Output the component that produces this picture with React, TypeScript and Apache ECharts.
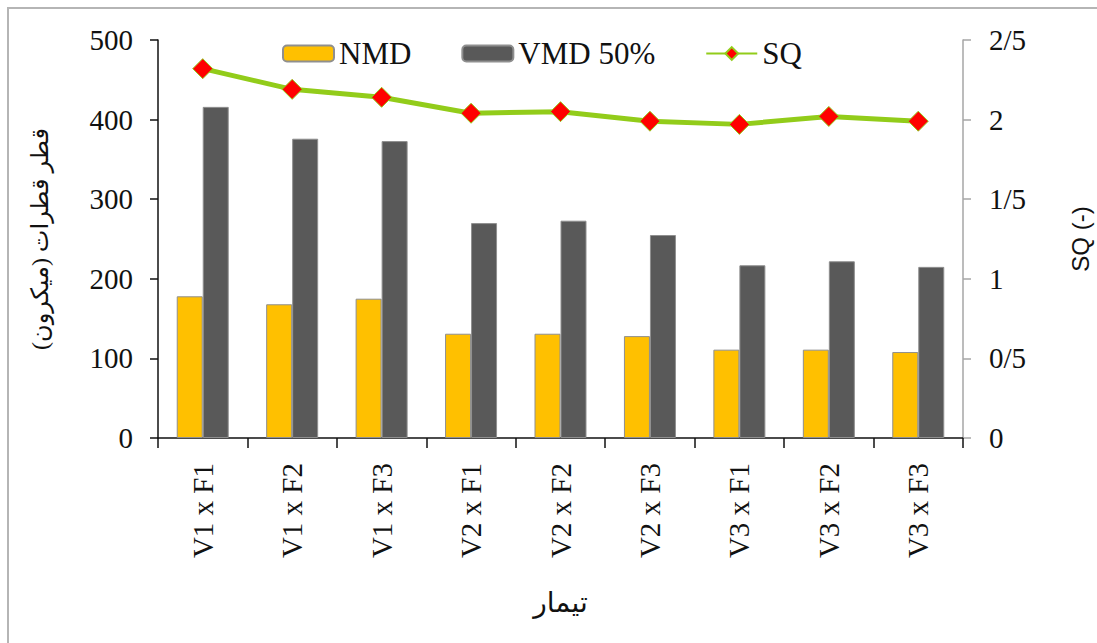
import React, { useEffect, useRef } from "react";
import * as echarts from "echarts";

// Treatments (variety x formulation)
const categories = [
  "V1 x F1", "V1 x F2", "V1 x F3",
  "V2 x F1", "V2 x F2", "V2 x F3",
  "V3 x F1", "V3 x F2", "V3 x F3",
];

// Droplet diameters (micron)
const nmdValues = [178, 168, 175, 131, 131, 128, 111, 111, 108];
const vmdValues = [416, 376, 373, 270, 273, 255, 217, 222, 215];

// Span quality (dimensionless)
const sqValues = [2.32, 2.19, 2.14, 2.04, 2.05, 1.99, 1.97, 2.02, 1.99];

const serif = "'Liberation Serif', 'Times New Roman', 'DejaVu Serif', serif";
const arabicFont = "'Liberation Serif', 'DejaVu Sans', 'Noto Sans', serif";

export default function App() {
  const ref = useRef<HTMLDivElement>(null);

  useEffect(() => {
    if (!ref.current) return;
    const chart = echarts.init(ref.current, undefined, { renderer: "svg" });
    chart.setOption({
      animation: false,
      backgroundColor: "#ffffff",
      graphic: [
        {
          type: "rect",
          shape: { x: 8, y: 8, width: 1300, height: 1000 },
          style: { fill: "none", stroke: "#b5b5b5", lineWidth: 2 },
          silent: true,
        },
      ],
      grid: { left: 158, right: 134, top: 40, bottom: 205, outerBoundsMode: "none", containLabel: false },
      legend: {
        left: 277,
        top: 33,
        itemWidth: 51,
        itemHeight: 16,
        itemGap: 50,
        textStyle: { fontFamily: serif, fontSize: 31, color: "#111" },
        data: ["NMD", "VMD 50%", "SQ"],
      },
      xAxis: {
        type: "category",
        data: categories,
        name: "تیمار",
        nameLocation: "middle",
        nameGap: 150,
        nameTextStyle: { fontFamily: arabicFont, fontSize: 28, color: "#111" },
        axisLine: { lineStyle: { color: "#111", width: 1.5 } },
        axisTick: { show: true, length: 10, interval: 0, lineStyle: { color: "#111", width: 1.5 } },
        axisLabel: {
          rotate: 90,
          interval: 0,
          margin: 25,
          fontFamily: serif,
          fontSize: 29,
          color: "#111",
        },
      },
      yAxis: [
        {
          type: "value",
          min: 0,
          max: 500,
          interval: 100,
          name: "قطر قطرات (میکرون)",
          nameLocation: "middle",
          nameRotate: 90,
          nameGap: 106,
          nameTextStyle: { fontFamily: arabicFont, fontSize: 24, color: "#111" },
          splitLine: { show: false },
          axisLine: { show: true, lineStyle: { color: "#111", width: 1.5 } },
          axisTick: { show: true, length: 8, lineStyle: { color: "#111", width: 1.5 } },
          axisLabel: { margin: 25, fontFamily: serif, fontSize: 29, color: "#111" },
        },
        {
          type: "value",
          min: 0,
          max: 2.5,
          interval: 0.5,
          position: "right",
          name: "SQ (-)",
          nameLocation: "middle",
          nameRotate: 90,
          nameGap: 105,
          nameTextStyle: { fontFamily: "'Liberation Sans', Arial, sans-serif", fontSize: 24, color: "#111" },
          splitLine: { show: false },
          axisLine: { show: true, lineStyle: { color: "#a6a6a6", width: 1.5 } },
          axisTick: { show: true, length: 8, lineStyle: { color: "#a6a6a6", width: 1.5 } },
          axisLabel: {
            margin: 26,
            fontFamily: serif,
            fontSize: 29,
            color: "#111",
            formatter: (v: number) => String(v).replace(".", "/"),
          },
        },
      ],
      series: [
        {
          name: "NMD",
          type: "bar",
          data: nmdValues,
          barWidth: 26,
          barGap: "0%",
          itemStyle: { color: "#FFC000", borderColor: "#8f8f8f", borderWidth: 1 },
        },
        {
          name: "VMD 50%",
          type: "bar",
          data: vmdValues,
          barWidth: 26,
          barGap: "0%",
          itemStyle: { color: "#595959", borderColor: "#8f8f8f", borderWidth: 1 },
        },
        {
          name: "SQ",
          type: "line",
          yAxisIndex: 1,
          data: sqValues,
          symbol: "diamond",
          symbolSize: 20,
          lineStyle: { color: "#92CC1A", width: 5 },
          itemStyle: { color: "#FF0000", borderColor: "#92CC1A", borderWidth: 1 },
          z: 5,
        },
      ],
    });
    return () => chart.dispose();
  }, []);

  return (
    <div
      style={{
        position: "fixed",
        left: 0,
        top: 0,
        width: 1097,
        height: 643,
        overflow: "hidden",
        background: "#fff",
      }}
    >
      <div ref={ref} style={{ width: 1097, height: 643 }} />
    </div>
  );
}
